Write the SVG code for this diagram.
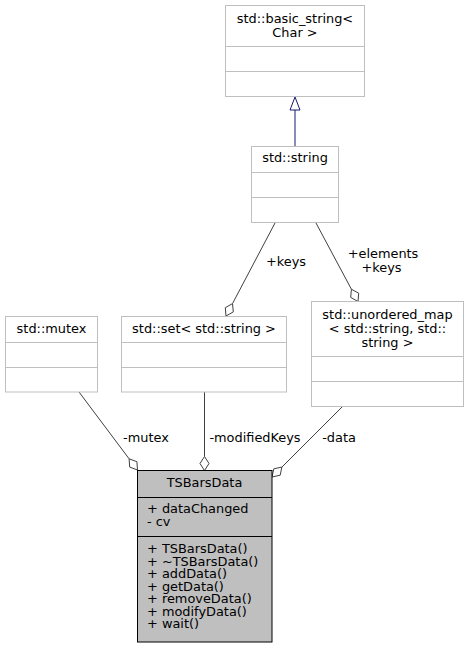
<svg xmlns="http://www.w3.org/2000/svg" width="469" height="656" viewBox="0 0 469 656">
<style>
text{font-family:"DejaVu Sans","Liberation Sans",sans-serif;font-size:12.9px;fill:#000}
.c{text-anchor:middle}
.box{fill:#fff;stroke:#bfbfbf;stroke-width:1}
.sep{stroke:#bfbfbf;stroke-width:1}
.main{fill:#bfbfbf;stroke:#000;stroke-width:1}
.msep{stroke:#000;stroke-width:1}
.edge{stroke:#404040;stroke-width:1;fill:none}
.dia{stroke:#404040;stroke-width:1;fill:#fff}
.inh{stroke:#191970;stroke-width:1;fill:none}
.tri{stroke:#191970;stroke-width:1;fill:#fff}
</style>
<rect width="469" height="656" fill="#fff"/>
<g id="connectors">
<path class="inh" d="M295,110 V146"/>
<polygon class="tri" points="295,97 290,110 300,110"/>
<path class="edge" d="M275,223 L232.5,303.6"/>
<polygon class="dia" points="226,316 225.3,307.7 232.5,303.6 233.3,311.9"/>
<text x="286" y="266" class="c">+keys</text>
<path class="edge" d="M316,223 L351.4,289.2"/>
<polygon class="dia" points="358,301.5 350.7,297.4 351.4,289.2 358.7,293.2"/>
<text x="383" y="258" class="c">+elements</text>
<text x="381.5" y="271.5" class="c">+keys</text>
<path class="edge" d="M79,392 L129.1,458.8"/>
<polygon class="dia" points="137.5,470 129.7,467.1 129.1,458.8 136.9,461.7"/>
<text x="146" y="442" class="c">-mutex</text>
<path class="edge" d="M204.5,392 V456.5"/>
<polygon class="dia" points="204.5,470.5 200,463.5 204.5,456.5 209,463.5"/>
<text x="255" y="442" class="c">-modifiedKeys</text>
<path class="edge" d="M342,407 L281.9,467.1"/>
<polygon class="dia" points="272,477 273.8,468.8 281.9,467.1 280.2,475.2"/>
<text x="339" y="442" class="c">-data</text>
</g>
<g id="basic_string">
<rect class="box" x="225.5" y="5.5" width="139" height="91"/>
<path class="sep" d="M225.5,46.5 H364.5 M225.5,71.5 H364.5"/>
<text x="295" y="22.5" class="c">std::basic_string&lt;</text>
<text x="295" y="37" class="c">Char &gt;</text>
</g>
<g id="string">
<rect class="box" x="251.5" y="146.5" width="87" height="76"/>
<path class="sep" d="M251.5,172.5 H338.5 M251.5,197.5 H338.5"/>
<text x="295" y="162" class="c">std::string</text>
</g>
<g id="mutex">
<rect class="box" x="5.5" y="316.5" width="92" height="75.5"/>
<path class="sep" d="M5.5,342.5 H97.5 M5.5,367.5 H97.5"/>
<text x="51.5" y="333" class="c">std::mutex</text>
</g>
<g id="set">
<rect class="box" x="121.5" y="316.5" width="165" height="75.5"/>
<path class="sep" d="M121.5,342.5 H286.5 M121.5,367.5 H286.5"/>
<text x="204" y="333" class="c">std::set&lt; std::string &gt;</text>
</g>
<g id="unordered_map">
<rect class="box" x="311.5" y="301.5" width="152" height="105"/>
<path class="sep" d="M311.5,356.5 H463.5 M311.5,381.5 H463.5"/>
<text x="387.5" y="319" class="c">std::unordered_map</text>
<text x="387.5" y="333" class="c">&lt; std::string, std::</text>
<text x="387.5" y="347" class="c">string &gt;</text>
</g>
<g id="TSBarsData">
<rect class="main" x="137.5" y="470.5" width="134.5" height="171.5"/>
<path class="msep" d="M137.5,497.5 H272 M137.5,536.5 H272"/>
<text x="204.5" y="487" class="c">TSBarsData</text>
<text x="147" y="513">+ dataChanged</text>
<text x="147" y="526">- cv</text>
<text x="147" y="553">+ TSBarsData()</text>
<text x="147" y="565.5">+ ~TSBarsData()</text>
<text x="147" y="578">+ addData()</text>
<text x="147" y="590.5">+ getData()</text>
<text x="147" y="603">+ removeData()</text>
<text x="147" y="615.5">+ modifyData()</text>
<text x="147" y="628">+ wait()</text>
</g>
</svg>
